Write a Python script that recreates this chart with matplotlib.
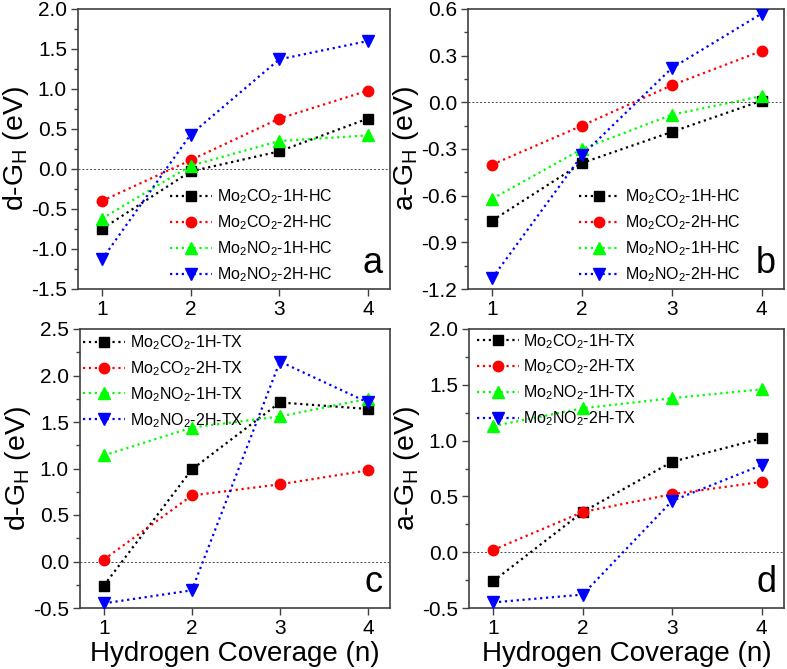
import matplotlib
matplotlib.use("Agg")
import matplotlib.pyplot as plt

plt.rcParams['font.family'] = ['Liberation Sans', 'DejaVu Sans']
plt.rcParams['mathtext.fontset'] = 'custom'
plt.rcParams['mathtext.rm'] = 'Liberation Sans'
plt.rcParams['mathtext.it'] = 'Liberation Sans:italic'
plt.rcParams['mathtext.bf'] = 'Liberation Sans:bold'

coverage = [1, 2, 3, 4]

# panel a: d-G_H, HC
a_co2_1h = [-0.75, -0.03, 0.22, 0.63]
a_co2_2h = [-0.40, 0.11, 0.63, 0.98]
a_no2_1h = [-0.62, 0.04, 0.35, 0.42]
a_no2_2h = [-1.13, 0.43, 1.37, 1.60]

# panel b: a-G_H, HC
b_co2_1h = [-0.76, -0.39, -0.19, 0.01]
b_co2_2h = [-0.40, -0.15, 0.11, 0.33]
b_no2_1h = [-0.62, -0.30, -0.08, 0.04]
b_no2_2h = [-1.13, -0.34, 0.22, 0.57]

# panel c: d-G_H, TX
c_co2_1h = [-0.26, 0.99, 1.71, 1.64]
c_co2_2h = [0.02, 0.71, 0.83, 0.98]
c_no2_1h = [1.14, 1.44, 1.56, 1.75]
c_no2_2h = [-0.45, -0.31, 2.15, 1.71]

# panel d: a-G_H, TX
d_co2_1h = [-0.26, 0.36, 0.81, 1.02]
d_co2_2h = [0.02, 0.36, 0.52, 0.63]
d_no2_1h = [1.13, 1.29, 1.38, 1.46]
d_no2_2h = [-0.45, -0.38, 0.46, 0.78]

names = ['Mo$_2$CO$_2$-1H', 'Mo$_2$CO$_2$-2H', 'Mo$_2$NO$_2$-1H', 'Mo$_2$NO$_2$-2H']
colors = ['black', '#ff0000', '#00ff00', '#0000ff']
markers = ['s', 'o', '^', 'v']
msizes = [6.5, 7.5, 8, 8]

fig = plt.figure(figsize=(7.87, 6.69), dpi=100)
W, H = 787.0, 669.0


def make_axes(x0, y0, x1, y1):
    return fig.add_axes([x0 / W, 1 - y1 / H, (x1 - x0) / W, (y1 - y0) / H])


ax_a = make_axes(78, 9, 390, 289)
ax_b = make_axes(468, 9, 784, 289)
ax_c = make_axes(80, 329, 390, 608)
ax_d = make_axes(469, 329, 784, 608)

panels = [
    (ax_a, [a_co2_1h, a_co2_2h, a_no2_1h, a_no2_2h], 'HC', 'd', (-1.5, 2.0), 0.5, 'a'),
    (ax_b, [b_co2_1h, b_co2_2h, b_no2_1h, b_no2_2h], 'HC', 'a', (-1.2, 0.6), 0.3, 'b'),
    (ax_c, [c_co2_1h, c_co2_2h, c_no2_1h, c_no2_2h], 'TX', 'd', (-0.5, 2.5), 0.5, 'c'),
    (ax_d, [d_co2_1h, d_co2_2h, d_no2_1h, d_no2_2h], 'TX', 'a', (-0.5, 2.0), 0.5, 'd'),
]

for ax, series, site, kind, ylim, step, letter in panels:
    ax.axhline(0, color='0.3', lw=0.7, ls=(0, (2, 2)), zorder=1)
    for vals, nm, c, m, ms in zip(series, names, colors, markers, msizes):
        ax.plot(coverage, vals, ls=':', lw=1.6, color=c, marker=m, ms=ms,
                label=nm + '-' + site, zorder=3)
    ax.set_xlim(0.73, 4.25)
    ax.set_ylim(*ylim)
    n = int(round((ylim[1] - ylim[0]) / step))
    ticks = [ylim[0] + i * step for i in range(n + 1)]
    ax.set_yticks(ticks)
    ax.set_yticklabels(['%.1f' % t for t in ticks])
    ax.set_yticks([t + step / 2 for t in ticks[:-1]], minor=True)
    ax.set_xticks(coverage)
    ax.tick_params(direction='out', labelsize=15, length=5, width=1, color='0.25', pad=3)
    ax.tick_params(which='minor', direction='out', length=3, width=1, color='0.25')
    for sp in ax.spines.values():
        sp.set_color('0.25')
        sp.set_linewidth(1.2)
    ax.set_ylabel(kind + '-G$_\\mathrm{H}$ (eV)', fontsize=20.5, labelpad=0)
    ax.text(0.975, 0.03, letter, transform=ax.transAxes, ha='right', va='bottom', fontsize=26)

leg_kw = dict(frameon=False, fontsize=11.5, handlelength=2.6, handletextpad=0.3,
              labelspacing=0.45, numpoints=1, borderpad=0.2)
ax_a.legend(loc='lower left', bbox_to_anchor=(0.26, -0.022), **leg_kw)
ax_b.legend(loc='lower left', bbox_to_anchor=(0.315, -0.022), **leg_kw)
ax_c.legend(loc='upper left', bbox_to_anchor=(-0.025, 1.025), **leg_kw)
ax_d.legend(loc='upper left', bbox_to_anchor=(-0.01, 1.03), **leg_kw)

ax_c.set_xlabel('Hydrogen Coverage (n)', fontsize=20, labelpad=2)
ax_d.set_xlabel('Hydrogen Coverage (n)', fontsize=20, labelpad=2)

fig.savefig('out.png', dpi=100)
